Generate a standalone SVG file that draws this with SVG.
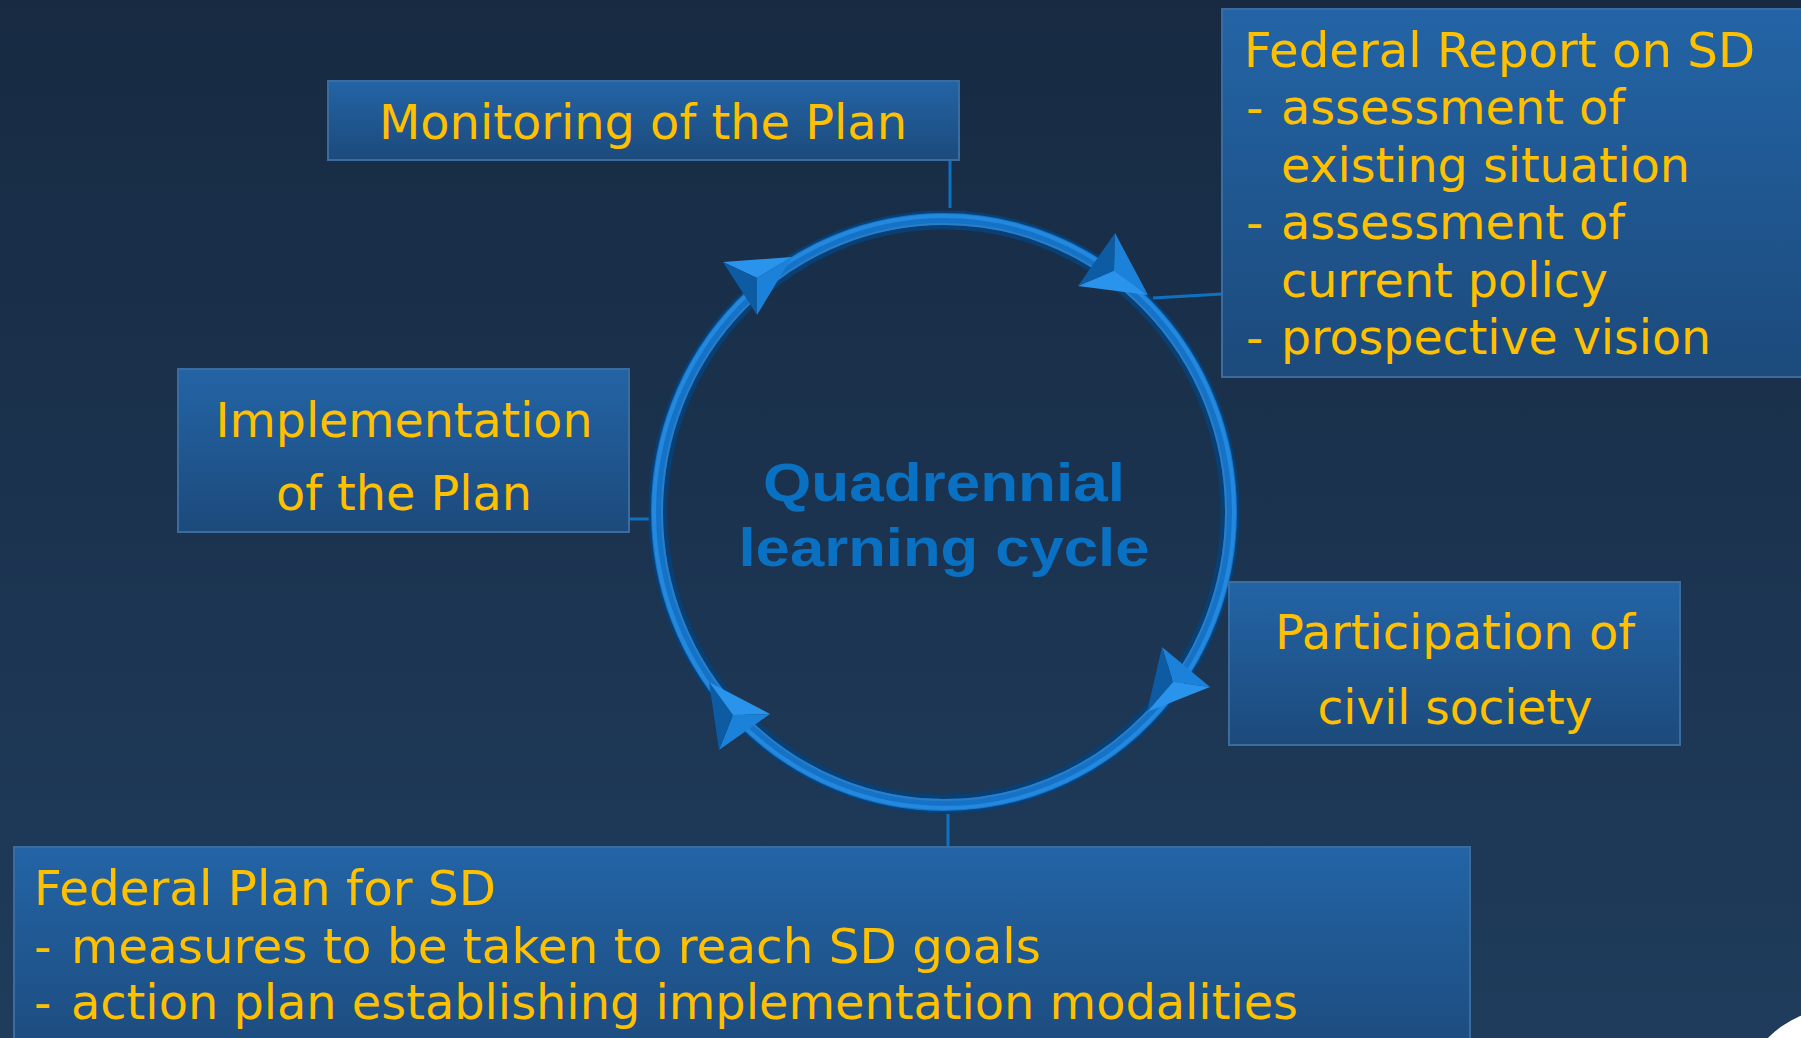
<svg xmlns="http://www.w3.org/2000/svg" width="1801" height="1038" viewBox="0 0 1801 1038">
<defs>
<linearGradient id="bg" x1="0" y1="0" x2="0" y2="1">
<stop offset="0" stop-color="#172A42"/>
<stop offset="1" stop-color="#1F3C5C"/>
</linearGradient>
<linearGradient id="boxg" x1="0" y1="0" x2="0" y2="1">
<stop offset="0" stop-color="#2364A6"/>
<stop offset="1" stop-color="#1C4A7B"/>
</linearGradient>
<style>
.box{fill:url(#boxg);stroke:#3A6C9F;stroke-width:2}
.lbl{font-family:"DejaVu Sans",Verdana,sans-serif;font-size:48px;fill:#FFC000}
.mid{text-anchor:middle}
.ctr{font-family:"Liberation Sans",Arial,sans-serif;font-weight:bold;font-size:53px;fill:#0A70C2;text-anchor:middle}
.con{stroke:#0E72C4;stroke-width:3;fill:none}
.f1{fill:#2A94EC}
.f2{fill:#0D5BA3}
.f3{fill:#1C82D9}
</style>
</defs>
<rect x="0" y="0" width="1801" height="1038" fill="url(#bg)"/>
<circle cx="1840" cy="1110" r="102" fill="#FFFFFF"/>

<g id="connectors">
<line class="con" x1="950" y1="160" x2="950" y2="208"/>
<line class="con" x1="1153" y1="298" x2="1222" y2="294"/>
<line class="con" x1="629" y1="519" x2="652" y2="519"/>
<line class="con" x1="948" y1="814" x2="948" y2="847"/>
</g>

<g id="cycle">
<ellipse cx="944" cy="512" rx="286" ry="292" fill="none" stroke="#083F74" stroke-width="19"/>
<ellipse cx="944" cy="512" rx="287" ry="293" fill="none" stroke="#1473C8" stroke-width="12"/>
<ellipse cx="944" cy="512" rx="290" ry="296" fill="none" stroke="#2488DC" stroke-width="4"/>
<ellipse cx="944" cy="512" rx="282" ry="288" fill="none" stroke="#3A84C4" stroke-width="2" opacity="0.6"/>
<g id="arrow-tl">
<polygon class="f1" points="723,262 792,257 757,278"/>
<polygon class="f3" points="792,257 757,315 757,278"/>
<polygon class="f2" points="757,315 723,262 757,278"/>
</g>
<g id="arrow-tr">
<polygon class="f2" points="1115,233 1078,286 1114,271"/>
<polygon class="f1" points="1078,286 1148,295 1114,271"/>
<polygon class="f3" points="1148,295 1115,233 1114,271"/>
</g>
<g id="arrow-br">
<polygon class="f3" points="1162,647 1210,687 1173,682"/>
<polygon class="f1" points="1210,687 1147,712 1173,682"/>
<polygon class="f2" points="1147,712 1162,647 1173,682"/>
</g>
<g id="arrow-bl">
<polygon class="f1" points="709,682 770,714 733,715"/>
<polygon class="f3" points="770,714 719,750 733,715"/>
<polygon class="f2" points="719,750 709,682 733,715"/>
</g>
<text class="ctr" x="944" y="501" textLength="362" lengthAdjust="spacingAndGlyphs">Quadrennial</text>
<text class="ctr" x="944" y="566" textLength="411" lengthAdjust="spacingAndGlyphs">learning cycle</text>
</g>

<g id="monitoring">
<rect class="box" x="328" y="81" width="631" height="79"/>
<text class="lbl mid" x="643" y="139" textLength="528" lengthAdjust="spacingAndGlyphs">Monitoring of the Plan</text>
</g>

<g id="federal-report">
<rect class="box" x="1222" y="9" width="600" height="368"/>
<text class="lbl" x="1244" y="67" textLength="511" lengthAdjust="spacingAndGlyphs">Federal Report on SD</text>
<text class="lbl" y="124"><tspan x="1246">-</tspan><tspan x="1281" textLength="344" lengthAdjust="spacingAndGlyphs">assessment of</tspan></text>
<text class="lbl" x="1281" y="182" textLength="409" lengthAdjust="spacingAndGlyphs">existing situation</text>
<text class="lbl" y="239"><tspan x="1246">-</tspan><tspan x="1281" textLength="344" lengthAdjust="spacingAndGlyphs">assessment of</tspan></text>
<text class="lbl" x="1281" y="297" textLength="327" lengthAdjust="spacingAndGlyphs">current policy</text>
<text class="lbl" y="354"><tspan x="1246">-</tspan><tspan x="1281" textLength="430" lengthAdjust="spacingAndGlyphs">prospective vision</tspan></text>
</g>

<g id="implementation">
<rect class="box" x="178" y="369" width="451" height="163"/>
<text class="lbl mid" x="404" y="437" textLength="377" lengthAdjust="spacingAndGlyphs">Implementation</text>
<text class="lbl mid" x="404" y="510" textLength="256" lengthAdjust="spacingAndGlyphs">of the Plan</text>
</g>

<g id="participation">
<rect class="box" x="1229" y="582" width="451" height="163"/>
<text class="lbl mid" x="1455" y="649" textLength="360" lengthAdjust="spacingAndGlyphs">Participation of</text>
<text class="lbl mid" x="1455" y="724" textLength="275" lengthAdjust="spacingAndGlyphs">civil society</text>
</g>

<g id="federal-plan">
<rect class="box" x="14" y="847" width="1456" height="220"/>
<text class="lbl" x="34" y="905" textLength="462" lengthAdjust="spacingAndGlyphs">Federal Plan for SD</text>
<text class="lbl" y="963"><tspan x="34">-</tspan><tspan x="71" textLength="970" lengthAdjust="spacingAndGlyphs">measures to be taken to reach SD goals</tspan></text>
<text class="lbl" y="1019"><tspan x="34">-</tspan><tspan x="71" textLength="1227" lengthAdjust="spacingAndGlyphs">action plan establishing implementation modalities</tspan></text>
</g>
</svg>
